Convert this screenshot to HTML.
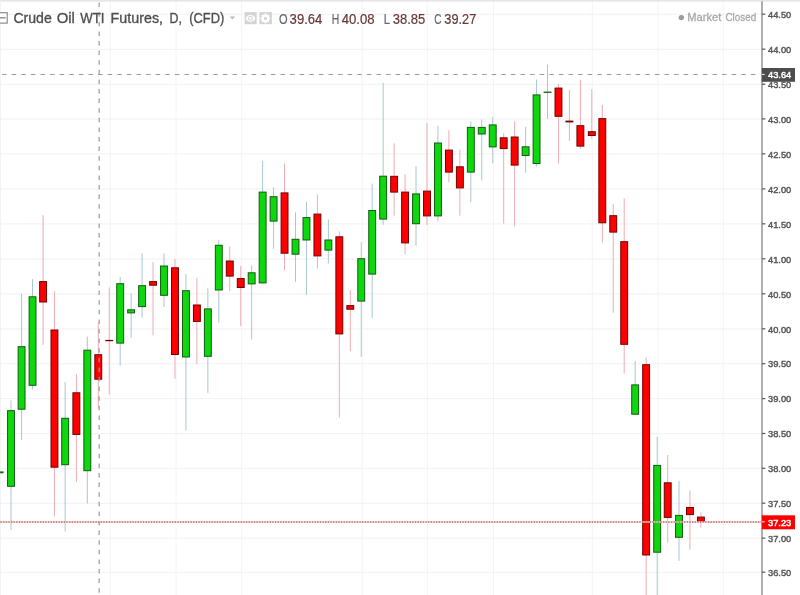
<!DOCTYPE html>
<html lang="en"><head><meta charset="utf-8"><title>Crude Oil WTI Futures, D, (CFD)</title>
<style>
html,body{margin:0;padding:0;background:#fff;overflow:hidden}
body{width:800px;height:595px;position:relative;font-family:"Liberation Sans",sans-serif}
svg{position:absolute;left:0;top:0;display:block}
text{font-family:"Liberation Sans",sans-serif}
.ax{font-size:9.4px;fill:#585858;stroke:#585858;stroke-width:0.45px}
.lb{font-size:9.4px;fill:#fff;stroke:#fff;stroke-width:0.45px}
.ttl{font-size:15.3px;fill:#4f4f4f;stroke:#4f4f4f;stroke-width:0.35px}
.k{font-size:13.8px;fill:#666a72;stroke:#666a72;stroke-width:0.2px}
.v{font-size:13.8px;fill:#693737;stroke:#693737;stroke-width:0.2px}
.mc{font-size:11.4px;fill:#a8a8a8;stroke:#a8a8a8;stroke-width:0.3px}
</style></head><body>
<svg width="800" height="595" viewBox="0 0 800 595">
<defs><filter id="b" x="-5%" y="-5%" width="110%" height="110%"><feGaussianBlur stdDeviation="0.4"/></filter></defs>
<rect x="0" y="0" width="800" height="595" fill="#fff"/>
<g filter="url(#b)">
<g stroke="#efefef" stroke-width="0.9" fill="none">
<line x1="0" y1="14.30" x2="762.0" y2="14.30"/>
<line x1="0" y1="49.30" x2="762.0" y2="49.30"/>
<line x1="0" y1="84.30" x2="762.0" y2="84.30"/>
<line x1="0" y1="119.00" x2="762.0" y2="119.00"/>
<line x1="0" y1="153.90" x2="762.0" y2="153.90"/>
<line x1="0" y1="189.00" x2="762.0" y2="189.00"/>
<line x1="0" y1="223.90" x2="762.0" y2="223.90"/>
<line x1="0" y1="258.90" x2="762.0" y2="258.90"/>
<line x1="0" y1="293.90" x2="762.0" y2="293.90"/>
<line x1="0" y1="328.90" x2="762.0" y2="328.90"/>
<line x1="0" y1="363.80" x2="762.0" y2="363.80"/>
<line x1="0" y1="398.70" x2="762.0" y2="398.70"/>
<line x1="0" y1="433.60" x2="762.0" y2="433.60"/>
<line x1="0" y1="468.40" x2="762.0" y2="468.40"/>
<line x1="0" y1="503.30" x2="762.0" y2="503.30"/>
<line x1="0" y1="538.20" x2="762.0" y2="538.20"/>
<line x1="0" y1="572.30" x2="762.0" y2="572.30"/>
<line x1="110.3" y1="0" x2="110.3" y2="595" stroke="#f3f3f3"/>
<line x1="176.0" y1="0" x2="176.0" y2="595" stroke="#f3f3f3"/>
<line x1="241.6" y1="0" x2="241.6" y2="595" stroke="#f3f3f3"/>
<line x1="362.2" y1="0" x2="362.2" y2="595" stroke="#f3f3f3"/>
<line x1="427.3" y1="0" x2="427.3" y2="595" stroke="#f3f3f3"/>
<line x1="493.5" y1="0" x2="493.5" y2="595" stroke="#f3f3f3"/>
<line x1="592.4" y1="0" x2="592.4" y2="595" stroke="#f3f3f3"/>
<line x1="658.0" y1="0" x2="658.0" y2="595" stroke="#f3f3f3"/>
<line x1="723.4" y1="0" x2="723.4" y2="595" stroke="#f3f3f3"/>
</g>
<rect x="0" y="0" width="800" height="1.6" fill="#e6e6e6"/>
<rect x="0" y="0" width="0.7" height="595" fill="#eeeef1"/>
<rect x="-4" y="471.4" width="7.6" height="1.9" fill="#1c6a1c"/>
<line x1="11.00" y1="400.40" x2="11.00" y2="530.00" stroke="#a8c8d1" stroke-width="1"/>
<rect x="7.55" y="410.70" width="6.90" height="75.60" fill="#08d808" stroke="#135c13" stroke-width="1"/>
<line x1="21.58" y1="293.80" x2="21.58" y2="440.00" stroke="#a8c8d1" stroke-width="1"/>
<rect x="18.13" y="346.70" width="6.90" height="62.50" fill="#08d808" stroke="#135c13" stroke-width="1"/>
<line x1="32.53" y1="279.10" x2="32.53" y2="389.50" stroke="#a8c8d1" stroke-width="1"/>
<rect x="29.08" y="296.80" width="6.90" height="88.50" fill="#08d808" stroke="#135c13" stroke-width="1"/>
<line x1="43.10" y1="215.10" x2="43.10" y2="344.90" stroke="#eeacb2" stroke-width="1"/>
<rect x="39.65" y="281.60" width="6.90" height="20.40" fill="#ff0000" stroke="#700505" stroke-width="1"/>
<line x1="54.45" y1="291.20" x2="54.45" y2="516.40" stroke="#eeacb2" stroke-width="1"/>
<rect x="51.00" y="330.00" width="6.90" height="137.20" fill="#ff0000" stroke="#700505" stroke-width="1"/>
<line x1="65.15" y1="382.00" x2="65.15" y2="531.50" stroke="#a8c8d1" stroke-width="1"/>
<rect x="61.70" y="418.30" width="6.90" height="46.40" fill="#08d808" stroke="#135c13" stroke-width="1"/>
<line x1="76.36" y1="373.90" x2="76.36" y2="482.10" stroke="#eeacb2" stroke-width="1"/>
<rect x="72.91" y="392.80" width="6.90" height="41.60" fill="#ff0000" stroke="#700505" stroke-width="1"/>
<line x1="87.32" y1="336.60" x2="87.32" y2="503.50" stroke="#a8c8d1" stroke-width="1"/>
<rect x="83.87" y="350.20" width="6.90" height="120.50" fill="#08d808" stroke="#135c13" stroke-width="1"/>
<line x1="98.28" y1="322.60" x2="98.28" y2="408.40" stroke="#eeacb2" stroke-width="1"/>
<rect x="94.83" y="354.70" width="6.90" height="24.50" fill="#ff0000" stroke="#700505" stroke-width="1"/>
<line x1="109.23" y1="287.50" x2="109.23" y2="394.60" stroke="#eeacb2" stroke-width="1"/>
<rect x="105.28" y="339.90" width="7.90" height="1.30" fill="#700505"/>
<line x1="120.19" y1="276.90" x2="120.19" y2="365.60" stroke="#a8c8d1" stroke-width="1"/>
<rect x="116.74" y="283.70" width="6.90" height="59.40" fill="#08d808" stroke="#135c13" stroke-width="1"/>
<line x1="131.15" y1="293.30" x2="131.15" y2="337.80" stroke="#a8c8d1" stroke-width="1"/>
<rect x="127.70" y="309.80" width="6.90" height="3.10" fill="#08d808" stroke="#135c13" stroke-width="1"/>
<line x1="142.10" y1="253.40" x2="142.10" y2="317.70" stroke="#a8c8d1" stroke-width="1"/>
<rect x="138.65" y="285.70" width="6.90" height="20.90" fill="#08d808" stroke="#135c13" stroke-width="1"/>
<line x1="153.06" y1="262.20" x2="153.06" y2="335.30" stroke="#eeacb2" stroke-width="1"/>
<rect x="149.61" y="281.60" width="6.90" height="3.60" fill="#ff0000" stroke="#700505" stroke-width="1"/>
<line x1="164.02" y1="253.40" x2="164.02" y2="307.00" stroke="#a8c8d1" stroke-width="1"/>
<rect x="160.57" y="266.00" width="6.90" height="29.30" fill="#08d808" stroke="#135c13" stroke-width="1"/>
<line x1="174.98" y1="259.00" x2="174.98" y2="378.70" stroke="#eeacb2" stroke-width="1"/>
<rect x="171.53" y="267.80" width="6.90" height="86.70" fill="#ff0000" stroke="#700505" stroke-width="1"/>
<line x1="185.93" y1="274.00" x2="185.93" y2="430.60" stroke="#a8c8d1" stroke-width="1"/>
<rect x="182.48" y="290.70" width="6.90" height="66.30" fill="#08d808" stroke="#135c13" stroke-width="1"/>
<line x1="196.89" y1="277.90" x2="196.89" y2="364.30" stroke="#eeacb2" stroke-width="1"/>
<rect x="193.44" y="305.00" width="6.90" height="16.40" fill="#ff0000" stroke="#700505" stroke-width="1"/>
<line x1="207.85" y1="288.20" x2="207.85" y2="392.90" stroke="#a8c8d1" stroke-width="1"/>
<rect x="204.40" y="308.90" width="6.90" height="47.40" fill="#08d808" stroke="#135c13" stroke-width="1"/>
<line x1="218.80" y1="240.30" x2="218.80" y2="322.80" stroke="#a8c8d1" stroke-width="1"/>
<rect x="215.35" y="245.30" width="6.90" height="44.70" fill="#08d808" stroke="#135c13" stroke-width="1"/>
<line x1="229.76" y1="246.60" x2="229.76" y2="291.20" stroke="#eeacb2" stroke-width="1"/>
<rect x="226.31" y="261.00" width="6.90" height="15.10" fill="#ff0000" stroke="#700505" stroke-width="1"/>
<line x1="240.72" y1="266.00" x2="240.72" y2="326.10" stroke="#eeacb2" stroke-width="1"/>
<rect x="237.27" y="278.60" width="6.90" height="8.90" fill="#ff0000" stroke="#700505" stroke-width="1"/>
<line x1="251.67" y1="265.30" x2="251.67" y2="339.20" stroke="#a8c8d1" stroke-width="1"/>
<rect x="248.22" y="272.80" width="6.90" height="11.10" fill="#08d808" stroke="#135c13" stroke-width="1"/>
<line x1="262.63" y1="160.80" x2="262.63" y2="283.40" stroke="#a8c8d1" stroke-width="1"/>
<rect x="259.18" y="192.10" width="6.90" height="90.80" fill="#08d808" stroke="#135c13" stroke-width="1"/>
<line x1="273.59" y1="187.30" x2="273.59" y2="248.90" stroke="#a8c8d1" stroke-width="1"/>
<rect x="270.14" y="196.70" width="6.90" height="24.40" fill="#08d808" stroke="#135c13" stroke-width="1"/>
<line x1="284.55" y1="163.40" x2="284.55" y2="270.60" stroke="#eeacb2" stroke-width="1"/>
<rect x="281.10" y="192.90" width="6.90" height="60.30" fill="#ff0000" stroke="#700505" stroke-width="1"/>
<line x1="295.50" y1="212.30" x2="295.50" y2="281.90" stroke="#a8c8d1" stroke-width="1"/>
<rect x="292.05" y="239.30" width="6.90" height="14.90" fill="#08d808" stroke="#135c13" stroke-width="1"/>
<line x1="306.46" y1="201.70" x2="306.46" y2="295.00" stroke="#a8c8d1" stroke-width="1"/>
<rect x="303.01" y="217.60" width="6.90" height="22.40" fill="#08d808" stroke="#135c13" stroke-width="1"/>
<line x1="317.42" y1="194.40" x2="317.42" y2="268.50" stroke="#eeacb2" stroke-width="1"/>
<rect x="313.97" y="214.10" width="6.90" height="41.80" fill="#ff0000" stroke="#700505" stroke-width="1"/>
<line x1="328.37" y1="219.40" x2="328.37" y2="263.50" stroke="#a8c8d1" stroke-width="1"/>
<rect x="324.92" y="240.00" width="6.90" height="10.10" fill="#08d808" stroke="#135c13" stroke-width="1"/>
<line x1="339.33" y1="231.20" x2="339.33" y2="417.40" stroke="#eeacb2" stroke-width="1"/>
<rect x="335.88" y="236.80" width="6.90" height="97.10" fill="#ff0000" stroke="#700505" stroke-width="1"/>
<line x1="350.29" y1="290.00" x2="350.29" y2="351.30" stroke="#eeacb2" stroke-width="1"/>
<rect x="346.84" y="305.60" width="6.90" height="3.60" fill="#ff0000" stroke="#700505" stroke-width="1"/>
<line x1="361.24" y1="242.10" x2="361.24" y2="356.80" stroke="#a8c8d1" stroke-width="1"/>
<rect x="357.79" y="258.70" width="6.90" height="42.40" fill="#08d808" stroke="#135c13" stroke-width="1"/>
<line x1="372.20" y1="183.50" x2="372.20" y2="318.20" stroke="#a8c8d1" stroke-width="1"/>
<rect x="368.75" y="210.50" width="6.90" height="63.60" fill="#08d808" stroke="#135c13" stroke-width="1"/>
<line x1="383.16" y1="82.80" x2="383.16" y2="225.00" stroke="#a8c8d1" stroke-width="1"/>
<rect x="379.71" y="176.20" width="6.90" height="42.90" fill="#08d808" stroke="#135c13" stroke-width="1"/>
<line x1="394.12" y1="143.30" x2="394.12" y2="215.60" stroke="#eeacb2" stroke-width="1"/>
<rect x="390.67" y="176.30" width="6.90" height="15.80" fill="#ff0000" stroke="#700505" stroke-width="1"/>
<line x1="405.07" y1="174.20" x2="405.07" y2="254.00" stroke="#eeacb2" stroke-width="1"/>
<rect x="401.62" y="192.10" width="6.90" height="50.80" fill="#ff0000" stroke="#700505" stroke-width="1"/>
<line x1="416.03" y1="166.00" x2="416.03" y2="245.90" stroke="#a8c8d1" stroke-width="1"/>
<rect x="412.58" y="193.90" width="6.90" height="29.80" fill="#08d808" stroke="#135c13" stroke-width="1"/>
<line x1="426.99" y1="123.10" x2="426.99" y2="225.20" stroke="#eeacb2" stroke-width="1"/>
<rect x="423.54" y="191.10" width="6.90" height="24.80" fill="#ff0000" stroke="#700505" stroke-width="1"/>
<line x1="437.94" y1="125.70" x2="437.94" y2="221.50" stroke="#a8c8d1" stroke-width="1"/>
<rect x="434.49" y="143.00" width="6.90" height="72.90" fill="#08d808" stroke="#135c13" stroke-width="1"/>
<line x1="448.90" y1="130.20" x2="448.90" y2="182.40" stroke="#eeacb2" stroke-width="1"/>
<rect x="445.45" y="150.10" width="6.90" height="22.00" fill="#ff0000" stroke="#700505" stroke-width="1"/>
<line x1="459.86" y1="149.60" x2="459.86" y2="215.70" stroke="#eeacb2" stroke-width="1"/>
<rect x="456.41" y="166.80" width="6.90" height="21.10" fill="#ff0000" stroke="#700505" stroke-width="1"/>
<line x1="470.81" y1="121.40" x2="470.81" y2="202.30" stroke="#a8c8d1" stroke-width="1"/>
<rect x="467.36" y="127.40" width="6.90" height="44.70" fill="#08d808" stroke="#135c13" stroke-width="1"/>
<line x1="481.77" y1="119.40" x2="481.77" y2="180.50" stroke="#a8c8d1" stroke-width="1"/>
<rect x="478.32" y="127.40" width="6.90" height="6.60" fill="#08d808" stroke="#135c13" stroke-width="1"/>
<line x1="492.73" y1="116.80" x2="492.73" y2="163.30" stroke="#a8c8d1" stroke-width="1"/>
<rect x="489.28" y="124.90" width="6.90" height="22.00" fill="#08d808" stroke="#135c13" stroke-width="1"/>
<line x1="503.69" y1="133.20" x2="503.69" y2="223.70" stroke="#eeacb2" stroke-width="1"/>
<rect x="500.24" y="137.80" width="6.90" height="10.80" fill="#ff0000" stroke="#700505" stroke-width="1"/>
<line x1="514.64" y1="121.40" x2="514.64" y2="226.30" stroke="#eeacb2" stroke-width="1"/>
<rect x="511.19" y="137.00" width="6.90" height="28.10" fill="#ff0000" stroke="#700505" stroke-width="1"/>
<line x1="525.60" y1="126.90" x2="525.60" y2="172.80" stroke="#a8c8d1" stroke-width="1"/>
<rect x="522.15" y="146.80" width="6.90" height="8.70" fill="#08d808" stroke="#135c13" stroke-width="1"/>
<line x1="536.56" y1="79.50" x2="536.56" y2="166.70" stroke="#a8c8d1" stroke-width="1"/>
<rect x="533.11" y="94.90" width="6.90" height="68.60" fill="#08d808" stroke="#135c13" stroke-width="1"/>
<line x1="547.51" y1="64.60" x2="547.51" y2="118.90" stroke="#a8c8d1" stroke-width="1"/>
<rect x="543.56" y="91.60" width="7.90" height="1.30" fill="#135c13"/>
<line x1="558.47" y1="84.00" x2="558.47" y2="163.30" stroke="#eeacb2" stroke-width="1"/>
<rect x="555.02" y="88.10" width="6.90" height="28.20" fill="#ff0000" stroke="#700505" stroke-width="1"/>
<line x1="569.43" y1="89.80" x2="569.43" y2="140.80" stroke="#eeacb2" stroke-width="1"/>
<rect x="565.48" y="120.60" width="7.90" height="1.80" fill="#700505"/>
<line x1="580.38" y1="79.80" x2="580.38" y2="148.90" stroke="#eeacb2" stroke-width="1"/>
<rect x="576.93" y="125.70" width="6.90" height="20.40" fill="#ff0000" stroke="#700505" stroke-width="1"/>
<line x1="591.80" y1="89.10" x2="591.80" y2="138.80" stroke="#eeacb2" stroke-width="1"/>
<rect x="588.35" y="131.70" width="6.90" height="3.80" fill="#ff0000" stroke="#700505" stroke-width="1"/>
<line x1="602.30" y1="105.00" x2="602.30" y2="242.50" stroke="#eeacb2" stroke-width="1"/>
<rect x="598.85" y="118.60" width="6.90" height="104.20" fill="#ff0000" stroke="#700505" stroke-width="1"/>
<line x1="613.25" y1="203.90" x2="613.25" y2="312.80" stroke="#eeacb2" stroke-width="1"/>
<rect x="609.80" y="215.70" width="6.90" height="16.40" fill="#ff0000" stroke="#700505" stroke-width="1"/>
<line x1="624.21" y1="198.30" x2="624.21" y2="373.60" stroke="#eeacb2" stroke-width="1"/>
<rect x="620.76" y="241.70" width="6.90" height="102.60" fill="#ff0000" stroke="#700505" stroke-width="1"/>
<line x1="635.17" y1="360.90" x2="635.17" y2="414.70" stroke="#a8c8d1" stroke-width="1"/>
<rect x="631.72" y="384.90" width="6.90" height="29.30" fill="#08d808" stroke="#135c13" stroke-width="1"/>
<line x1="646.13" y1="357.40" x2="646.13" y2="600.00" stroke="#eeacb2" stroke-width="1"/>
<rect x="642.68" y="364.70" width="6.90" height="190.30" fill="#ff0000" stroke="#700505" stroke-width="1"/>
<line x1="657.20" y1="436.90" x2="657.20" y2="600.00" stroke="#a8c8d1" stroke-width="1"/>
<rect x="653.75" y="465.40" width="6.90" height="86.80" fill="#08d808" stroke="#135c13" stroke-width="1"/>
<line x1="667.70" y1="455.00" x2="667.70" y2="542.60" stroke="#eeacb2" stroke-width="1"/>
<rect x="664.25" y="482.80" width="6.90" height="34.60" fill="#ff0000" stroke="#700505" stroke-width="1"/>
<line x1="679.00" y1="480.80" x2="679.00" y2="561.00" stroke="#a8c8d1" stroke-width="1"/>
<rect x="675.55" y="515.40" width="6.90" height="21.90" fill="#08d808" stroke="#135c13" stroke-width="1"/>
<line x1="689.95" y1="490.40" x2="689.95" y2="549.70" stroke="#eeacb2" stroke-width="1"/>
<rect x="686.50" y="507.50" width="6.90" height="7.10" fill="#ff0000" stroke="#700505" stroke-width="1"/>
<line x1="700.91" y1="512.60" x2="700.91" y2="527.70" stroke="#eeacb2" stroke-width="1"/>
<rect x="697.46" y="517.10" width="6.90" height="4.30" fill="#ff0000" stroke="#700505" stroke-width="1"/>
<line x1="0" y1="521.95" x2="762.0" y2="521.95" stroke="#fbcaca" stroke-width="1.6"/>
<line x1="0.4" y1="521.95" x2="762.0" y2="521.95" stroke="#b96f6f" stroke-width="1.6" stroke-dasharray="1.3 1.34"/>
<line x1="2.1" y1="74.5" x2="757" y2="74.5" stroke="#9a9a9a" stroke-width="1.2" stroke-dasharray="4.5 5.1"/>
<line x1="99.15" y1="2.6" x2="99.15" y2="595" stroke="#9a9a9a" stroke-width="1.2" stroke-dasharray="4.5 5.1"/>
<rect x="761.2" y="1.2" width="1.6" height="595" fill="#9c9c9c"/>
<g stroke="#5a5a5a" stroke-width="1.25">
<line x1="762.0" y1="14.20" x2="765.3" y2="14.20"/>
<line x1="762.0" y1="49.20" x2="765.3" y2="49.20"/>
<line x1="762.0" y1="84.20" x2="765.3" y2="84.20"/>
<line x1="762.0" y1="118.90" x2="765.3" y2="118.90"/>
<line x1="762.0" y1="153.80" x2="765.3" y2="153.80"/>
<line x1="762.0" y1="188.90" x2="765.3" y2="188.90"/>
<line x1="762.0" y1="223.80" x2="765.3" y2="223.80"/>
<line x1="762.0" y1="258.80" x2="765.3" y2="258.80"/>
<line x1="762.0" y1="293.80" x2="765.3" y2="293.80"/>
<line x1="762.0" y1="328.80" x2="765.3" y2="328.80"/>
<line x1="762.0" y1="363.70" x2="765.3" y2="363.70"/>
<line x1="762.0" y1="398.60" x2="765.3" y2="398.60"/>
<line x1="762.0" y1="433.50" x2="765.3" y2="433.50"/>
<line x1="762.0" y1="468.30" x2="765.3" y2="468.30"/>
<line x1="762.0" y1="503.20" x2="765.3" y2="503.20"/>
<line x1="762.0" y1="538.10" x2="765.3" y2="538.10"/>
<line x1="762.0" y1="572.20" x2="765.3" y2="572.20"/>
</g>
<text class="ax" x="768" y="17.95" textLength="23.2" lengthAdjust="spacingAndGlyphs">44.50</text>
<text class="ax" x="768" y="52.95" textLength="23.2" lengthAdjust="spacingAndGlyphs">44.00</text>
<text class="ax" x="768" y="87.95" textLength="23.2" lengthAdjust="spacingAndGlyphs">43.50</text>
<text class="ax" x="768" y="122.65" textLength="23.2" lengthAdjust="spacingAndGlyphs">43.00</text>
<text class="ax" x="768" y="157.55" textLength="23.2" lengthAdjust="spacingAndGlyphs">42.50</text>
<text class="ax" x="768" y="192.65" textLength="23.2" lengthAdjust="spacingAndGlyphs">42.00</text>
<text class="ax" x="768" y="227.55" textLength="23.2" lengthAdjust="spacingAndGlyphs">41.50</text>
<text class="ax" x="768" y="262.55" textLength="23.2" lengthAdjust="spacingAndGlyphs">41.00</text>
<text class="ax" x="768" y="297.55" textLength="23.2" lengthAdjust="spacingAndGlyphs">40.50</text>
<text class="ax" x="768" y="332.55" textLength="23.2" lengthAdjust="spacingAndGlyphs">40.00</text>
<text class="ax" x="768" y="367.45" textLength="23.2" lengthAdjust="spacingAndGlyphs">39.50</text>
<text class="ax" x="768" y="402.35" textLength="23.2" lengthAdjust="spacingAndGlyphs">39.00</text>
<text class="ax" x="768" y="437.25" textLength="23.2" lengthAdjust="spacingAndGlyphs">38.50</text>
<text class="ax" x="768" y="472.05" textLength="23.2" lengthAdjust="spacingAndGlyphs">38.00</text>
<text class="ax" x="768" y="506.95" textLength="23.2" lengthAdjust="spacingAndGlyphs">37.50</text>
<text class="ax" x="768" y="541.85" textLength="23.2" lengthAdjust="spacingAndGlyphs">37.00</text>
<text class="ax" x="768" y="575.95" textLength="23.2" lengthAdjust="spacingAndGlyphs">36.50</text>
<rect x="761.8" y="68" width="33.2" height="13.8" fill="#4d4d4d"/>
<line x1="762.0" y1="74.4" x2="764.6" y2="74.4" stroke="#fff" stroke-width="1"/>
<text class="lb" x="768" y="78.1" textLength="23.2" lengthAdjust="spacingAndGlyphs">43.64</text>
<rect x="761.8" y="515.3" width="33.2" height="14" fill="#ff0000"/>
<line x1="762.0" y1="521.8" x2="764.6" y2="521.8" stroke="#fff" stroke-width="1"/>
<text class="lb" x="768" y="525.7" textLength="23.2" lengthAdjust="spacingAndGlyphs">37.23</text>
<rect x="-3.5" y="12.7" width="10.7" height="10.4" fill="#fff" stroke="#8e8e8e" stroke-width="1.2"/>
<line x1="0" y1="17.8" x2="5.6" y2="17.8" stroke="#999" stroke-width="1.6"/>
<text class="ttl" y="23.3"><tspan x="13.4" textLength="38.4" lengthAdjust="spacingAndGlyphs">Crude</tspan> <tspan x="56.7" textLength="18.2" lengthAdjust="spacingAndGlyphs">Oil</tspan> <tspan x="80.3" textLength="24.2" lengthAdjust="spacingAndGlyphs">WTI</tspan> <tspan x="110.6" textLength="52.4" lengthAdjust="spacingAndGlyphs">Futures,</tspan> <tspan x="169.5" textLength="12.4" lengthAdjust="spacingAndGlyphs">D,</tspan> <tspan x="189.3" textLength="35" lengthAdjust="spacingAndGlyphs">(CFD)</tspan></text>
<path d="M229.5 16.6 L235.2 16.6 L232.35 19.5 Z" fill="#bcbcbc"/>
<rect x="244.6" y="12.1" width="12.1" height="12.1" fill="#d4d4d4"/>
<ellipse cx="250.5" cy="18.4" rx="4.7" ry="3.5" fill="#fff"/>
<circle cx="250.5" cy="18.4" r="1.9" fill="none" stroke="#d4d4d4" stroke-width="1.1"/>
<rect x="259.4" y="12.1" width="12.5" height="12.1" fill="#d4d4d4"/>
<circle cx="265.4" cy="18.4" r="2.7" fill="none" stroke="#fff" stroke-width="2.2"/>
<g stroke="#fff" stroke-width="1.9">
<line x1="268.40" y1="18.40" x2="270.20" y2="18.40"/>
<line x1="267.52" y1="20.52" x2="268.79" y2="21.79"/>
<line x1="265.40" y1="21.40" x2="265.40" y2="23.20"/>
<line x1="263.28" y1="20.52" x2="262.01" y2="21.79"/>
<line x1="262.40" y1="18.40" x2="260.60" y2="18.40"/>
<line x1="263.28" y1="16.28" x2="262.01" y2="15.01"/>
<line x1="265.40" y1="15.40" x2="265.40" y2="13.60"/>
<line x1="267.52" y1="16.28" x2="268.79" y2="15.01"/>
</g>
<text class="k" x="278.9" y="23.6" textLength="8.6" lengthAdjust="spacingAndGlyphs">O</text>
<text class="v" x="289.6" y="23.6" textLength="32.8" lengthAdjust="spacingAndGlyphs">39.64</text>
<text class="k" x="331.8" y="23.6" textLength="7.5" lengthAdjust="spacingAndGlyphs">H</text>
<text class="v" x="341.7" y="23.6" textLength="32.8" lengthAdjust="spacingAndGlyphs">40.08</text>
<text class="k" x="383.7" y="23.6" textLength="6.3" lengthAdjust="spacingAndGlyphs">L</text>
<text class="v" x="392.7" y="23.6" textLength="32.5" lengthAdjust="spacingAndGlyphs">38.85</text>
<text class="k" x="434.3" y="23.6" textLength="7.3" lengthAdjust="spacingAndGlyphs">C</text>
<text class="v" x="444.3" y="23.6" textLength="32" lengthAdjust="spacingAndGlyphs">39.27</text>
<circle cx="681.3" cy="17.6" r="2.7" fill="#9c9c9c"/>
<text class="mc" y="21.2"><tspan x="687.3" textLength="34" lengthAdjust="spacingAndGlyphs">Market</tspan> <tspan x="725.4" textLength="30.8" lengthAdjust="spacingAndGlyphs">Closed</tspan></text>
</g>
</svg>
</body></html>
